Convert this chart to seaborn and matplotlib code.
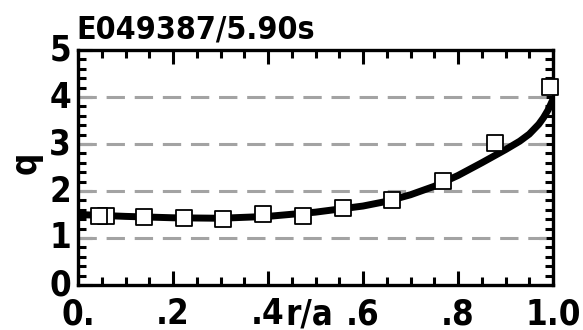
import matplotlib
matplotlib.use("Agg")
import matplotlib.pyplot as plt
import matplotlib.transforms as mtransforms
import seaborn as sns
import pandas as pd
from matplotlib.ticker import MultipleLocator, FixedLocator

# data
prof_r = [0.0, 0.1, 0.2, 0.3, 0.4, 0.5, 0.6, 0.65, 0.7, 0.75, 0.8, 0.85, 0.9, 0.93, 0.95, 0.97, 0.98, 0.99, 1.0]
prof_q = [1.50, 1.46, 1.43, 1.42, 1.46, 1.55, 1.68, 1.78, 1.92, 2.10, 2.33, 2.60, 2.88, 3.06, 3.21, 3.42, 3.56, 3.73, 3.95]
pts_r = [0.058, 0.044, 0.139, 0.223, 0.306, 0.389, 0.474, 0.558, 0.661, 0.769, 0.878, 0.994]
pts_q = [1.47, 1.47, 1.45, 1.43, 1.40, 1.51, 1.47, 1.64, 1.81, 2.21, 3.02, 4.21]
xtick_vals = [0.0, 0.2, 0.4, 0.6, 0.8, 1.0]
xtick_labels = ["0.", ".2", ".4", ".6", ".8", "1.0"]
ytick_vals = [0, 1, 2, 3, 4, 5]
grid_vals = [1, 2, 3, 4]
title = "E049387/5.90s"

sns.set_style("ticks")
plt.rcParams["font.family"] = ["DejaVu Sans"]
for k in ["text.color", "axes.labelcolor", "xtick.color", "ytick.color", "axes.edgecolor"]:
    plt.rcParams[k] = "black"

fig = plt.figure(figsize=(5.83, 3.30), dpi=100)
ax = fig.add_axes([78/583, 1-285/330, 475/583, 235/330])

font = dict(family="DejaVu Sans", weight="bold", stretch="condensed")

for g in grid_vals:
    ax.axhline(g, color="#a3a3a3", lw=2.2, dashes=(6, 3.2), zorder=1)

df_line = pd.DataFrame({"r": prof_r, "q": prof_q})
df_pts = pd.DataFrame({"r": pts_r, "q": pts_q})
sns.lineplot(data=df_line, x="r", y="q", ax=ax, color="black", lw=5.0, zorder=2)
sns.scatterplot(data=df_pts, x="r", y="q", ax=ax, marker="s", s=125,
                facecolor="white", edgecolor="black", linewidth=1.3, zorder=3,
                clip_on=False)

ax.set_xlim(0, 1.0)
ax.set_ylim(0, 5)
ax.xaxis.set_major_locator(FixedLocator(xtick_vals))
ax.xaxis.set_minor_locator(MultipleLocator(0.05))
ax.yaxis.set_major_locator(FixedLocator(ytick_vals))
ax.yaxis.set_minor_locator(MultipleLocator(0.2))
ax.set_xticklabels(xtick_labels, **font, fontsize=25)
ax.set_yticklabels([str(v) for v in ytick_vals], **font, fontsize=25)
ax.tick_params(which="both", direction="in", top=True, right=True, width=2.2, color="black")
ax.tick_params(which="major", length=10)
ax.tick_params(which="minor", length=6)
ax.tick_params(axis="x", which="major", pad=9)
ax.tick_params(axis="y", which="major", pad=5)
shift = mtransforms.ScaledTranslation(0, 3/100, fig.dpi_scale_trans)
for lab in ax.get_yticklabels():
    lab.set_transform(lab.get_transform() + shift)
for s in ax.spines.values():
    s.set_linewidth(2.4)
    s.set_visible(True)

ax.set_xlabel("r/a", **font, fontsize=25)
ax.xaxis.set_label_coords(0.488, -0.125)
ax.xaxis.label.set_va("center")
ax.set_ylabel("q", **font, fontsize=25)
ax.yaxis.set_label_coords(-0.075, 0.52)

fig.text(76/583, 1-38/330, title, ha="left", va="baseline", fontsize=23, **font)

fig.savefig("out.png", dpi=100)
